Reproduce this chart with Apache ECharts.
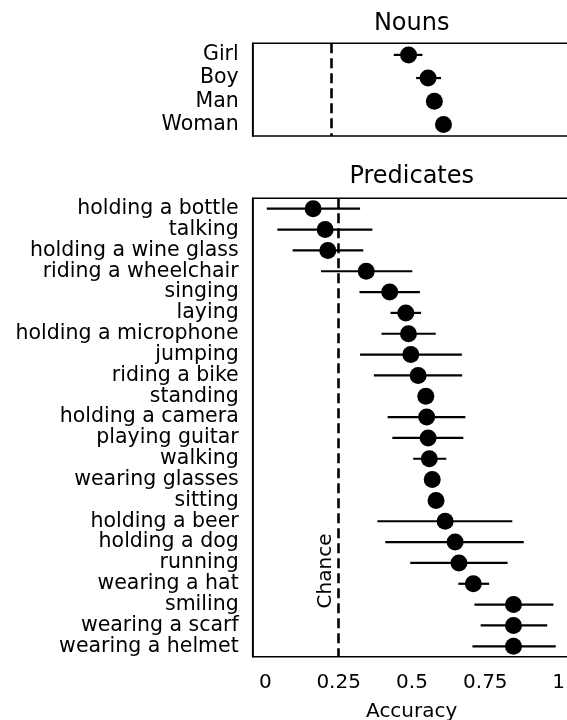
<!DOCTYPE html>
<html>
<head>
<meta charset="utf-8">
<script src="https://cdn.jsdelivr.net/npm/echarts@6/dist/echarts.min.js"></script>
<style>
  html, body { margin: 0; padding: 0; background: #fff; }
  #chart { width: 567px; height: 720px; }
</style>
</head>
<body>
<div id="chart"></div>
<script>
// nouns panel
const nouns = ['Girl', 'Boy', 'Man', 'Woman'];
const nounMean = [0.495, 0.557, 0.577, 0.606];
const nounLo = [0.448, 0.519, 0.562, 0.592];
const nounHi = [0.539, 0.598, 0.592, 0.620];

// predicates panel
const predicates = [
  'holding a bottle', 'talking', 'holding a wine glass', 'riding a wheelchair',
  'singing', 'laying', 'holding a microphone', 'jumping', 'riding a bike',
  'standing', 'holding a camera', 'playing guitar', 'walking', 'wearing glasses',
  'sitting', 'holding a beer', 'holding a dog', 'running', 'wearing a hat',
  'smiling', 'wearing a scarf', 'wearing a helmet'
];
const predMean = [0.163, 0.204, 0.213, 0.344, 0.424, 0.479, 0.488, 0.496, 0.521,
  0.547, 0.550, 0.555, 0.559, 0.569, 0.582, 0.613, 0.647, 0.660, 0.709,
  0.846, 0.846, 0.846];
const predLo = [0.005, 0.041, 0.093, 0.190, 0.321, 0.427, 0.396, 0.323, 0.370,
  0.535, 0.417, 0.433, 0.504, 0.555, 0.570, 0.382, 0.409, 0.494, 0.658,
  0.713, 0.734, 0.706];
const predHi = [0.323, 0.365, 0.334, 0.501, 0.527, 0.531, 0.581, 0.670, 0.671,
  0.560, 0.682, 0.675, 0.617, 0.583, 0.595, 0.842, 0.881, 0.826, 0.763,
  0.982, 0.961, 0.990];

const chance = 0.25;
const xTicks = [0, 0.25, 0.5, 0.75, 1];
const FONT = 'DejaVu Sans';

const chart = echarts.init(document.getElementById('chart'));

const axisLine = { onZero: false, lineStyle: { color: '#000', width: 1.6 } };
const tick = { length: 7, lineStyle: { color: '#000', width: 1.6 } };

function errorBars(lo, hi, cats) {
  return lo.map((v, i) => [v, hi[i], cats[i]]);
}

function renderBar(params, api) {
  const y = api.value(2);
  const a = api.coord([api.value(0), y]);
  const b = api.coord([api.value(1), y]);
  return {
    type: 'line',
    shape: { x1: a[0], y1: a[1], x2: b[0], y2: b[1] },
    style: { stroke: '#000', lineWidth: 2.2 }
  };
}

function chanceLine() {
  return {
    silent: true,
    symbol: 'none',
    label: { show: false },
    lineStyle: { color: '#000', width: 2.6, type: [10, 5] },
    data: [{ xAxis: chance }]
  };
}

function titleText(text, x, y) {
  return {
    type: 'text', x, y, z: 10,
    style: { text, font: '24px "DejaVu Sans"', fill: '#000',
             align: 'center', verticalAlign: 'middle' }
  };
}

chart.setOption({
  animation: false,
  textStyle: { fontFamily: FONT },
  grid: [
    { left: 252.7, top: 43.3, height: 92.7, width: 318, outerBoundsMode: 'none',
      show: true, borderColor: '#000', borderWidth: 1.6 },
    { left: 252.7, top: 198.3, height: 458.4, width: 318, outerBoundsMode: 'none',
      show: true, borderColor: '#000', borderWidth: 1.6 }
  ],
  xAxis: [
    { gridIndex: 0, type: 'value', min: 0, max: 1.01, interval: 0.25,
      axisLine, axisTick: tick, axisLabel: { show: false }, splitLine: { show: false } },
    { gridIndex: 1, type: 'value', min: -0.043, max: 1.041,
      name: 'Accuracy', nameLocation: 'middle', nameGap: 45,
      nameTextStyle: { fontFamily: FONT, fontSize: 20, color: '#000' },
      axisLine,
      axisTick: Object.assign({ customValues: xTicks }, tick),
      axisLabel: { customValues: xTicks, fontSize: 20, color: '#000', margin: 16, fontFamily: FONT },
      splitLine: { show: false } }
  ],
  yAxis: [
    { gridIndex: 0, type: 'category', data: nouns, inverse: true,
      axisLine, axisTick: Object.assign({ alignWithLabel: true, interval: 0 }, tick),
      axisLabel: { interval: 0, fontSize: 20.5, color: '#000', margin: 14, fontFamily: FONT } },
    { gridIndex: 1, type: 'category', data: predicates, inverse: true,
      axisLine, axisTick: Object.assign({ alignWithLabel: true, interval: 0 }, tick),
      axisLabel: { interval: 0, fontSize: 20.5, color: '#000', margin: 14, fontFamily: FONT } }
  ],
  series: [
    { type: 'custom', xAxisIndex: 0, yAxisIndex: 0, z: 2,
      renderItem: renderBar, encode: { x: [0, 1], y: 2 },
      data: errorBars(nounLo, nounHi, nouns) },
    { type: 'scatter', xAxisIndex: 0, yAxisIndex: 0, z: 3,
      symbolSize: 17, itemStyle: { color: '#000', opacity: 1 },
      data: nounMean.map((v, i) => [v, nouns[i]]),
      markLine: chanceLine() },
    { type: 'custom', xAxisIndex: 1, yAxisIndex: 1, z: 2,
      renderItem: renderBar, encode: { x: [0, 1], y: 2 },
      data: errorBars(predLo, predHi, predicates) },
    { type: 'scatter', xAxisIndex: 1, yAxisIndex: 1, z: 3,
      symbolSize: 17, itemStyle: { color: '#000', opacity: 1 },
      data: predMean.map((v, i) => [v, predicates[i]]),
      markLine: chanceLine() }
  ]
});

// panel titles and the "Chance" annotation beside the dashed line
const cx = chart.convertToPixel({ xAxisIndex: 1 }, chance);
chart.setOption({
  graphic: [
    titleText('Nouns', 411.7, 23.5),
    titleText('Predicates', 411.7, 177),
    {
      type: 'text', x: cx - 12.5, y: 571, rotation: Math.PI / 2, z: 10,
      style: { text: 'Chance', font: '20px "DejaVu Sans"', fill: '#000',
               align: 'center', verticalAlign: 'middle' }
    }
  ]
});
</script>
</body>
</html>
